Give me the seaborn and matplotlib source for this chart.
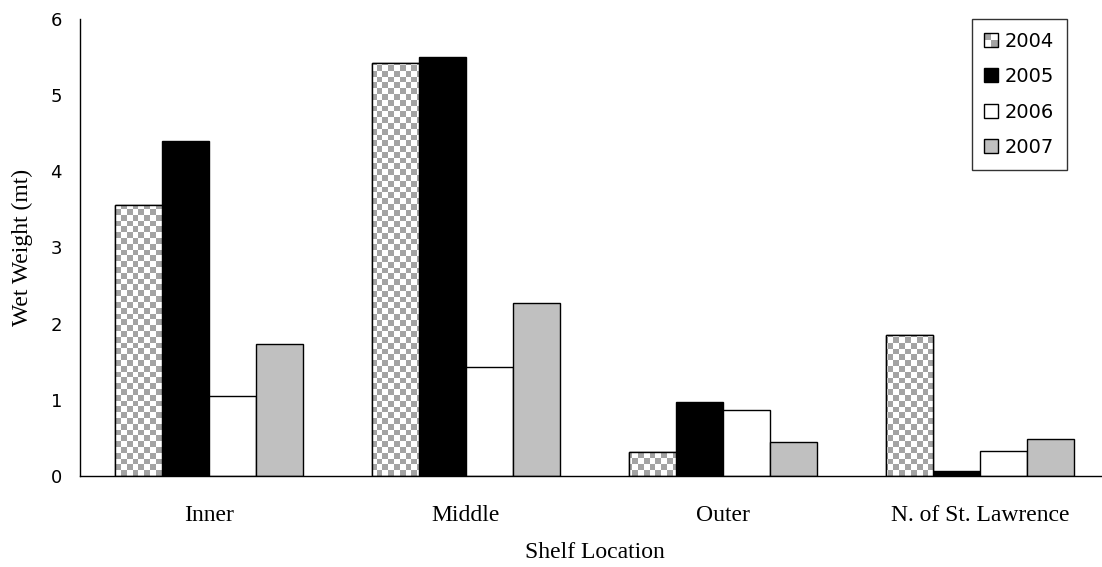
import numpy as np
import pandas as pd
import matplotlib
matplotlib.use("Agg")
import matplotlib.pyplot as plt
from matplotlib.patches import Rectangle, Patch
from matplotlib.legend_handler import HandlerBase
import seaborn as sns

# Wet weight (mt) by shelf location and survey year
categories = ["Inner", "Middle", "Outer", "N. of St. Lawrence"]
years = ["2004", "2005", "2006", "2007"]
y2004 = [3.56, 5.42, 0.32, 1.85]
y2005 = [4.40, 5.50, 0.97, 0.06]
y2006 = [1.05, 1.43, 0.87, 0.33]
y2007 = [1.73, 2.27, 0.45, 0.49]
y_ticks = [0, 1, 2, 3, 4, 5, 6]

df = pd.DataFrame({
    "location": categories * 4,
    "year": sum([[y] * len(categories) for y in years], []),
    "weight": y2004 + y2005 + y2006 + y2007,
})

sns.set_theme(style="white")
serif = ["Liberation Serif", "DejaVu Serif"]
sans = ["DejaVu Sans"]
plt.rcParams["font.family"] = sans
plt.rcParams["text.color"] = "black"
plt.rcParams["xtick.color"] = "black"
plt.rcParams["ytick.color"] = "black"
plt.rcParams["axes.labelcolor"] = "black"

CHECK_GRAY = "#a3a3a3"
palette = {"2004": "white", "2005": "black", "2006": "white", "2007": "#c0c0c0"}

W, H, DPI = 1102, 567, 100
fig = plt.figure(figsize=(W / DPI, H / DPI), dpi=DPI)
ax_l, ax_r, ax_t, ax_b = 80, 1109, 19, 476
ax = fig.add_axes([ax_l / W, 1 - ax_b / H, (ax_r - ax_l) / W, (ax_b - ax_t) / H])

sns.barplot(data=df, x="location", y="weight", hue="year", hue_order=years,
            order=categories, palette=palette, width=0.73, ax=ax,
            edgecolor="black", linewidth=1.0, saturation=1, legend=False,
            errorbar=None)

ax.set_xlim(-0.5, 3.5)
ax.set_ylim(0, 6)

# checkerboard texture for the 2004 bars
sq = 5.8
nx = int(round((ax_r - ax_l) / sq))
ny = int(round((ax_b - ax_t) / sq))
checker = (np.add.outer(np.arange(ny), np.arange(nx)) % 2).astype(float)
cmap = matplotlib.colors.ListedColormap(["white", CHECK_GRAY])
bars_2004 = ax.containers[0]
for bar in bars_2004:
    im = ax.imshow(checker, cmap=cmap, extent=(-0.5, 3.5, 0, 6), origin="upper",
                   interpolation="nearest", aspect="auto", zorder=bar.get_zorder() + 0.1)
    im.set_clip_path(bar)
    outline = Rectangle(bar.get_xy(), bar.get_width(), bar.get_height(),
                        facecolor="none", edgecolor="black", linewidth=1.0,
                        zorder=bar.get_zorder() + 0.2)
    ax.add_patch(outline)
ax.set_xlim(-0.5, 3.5)
ax.set_ylim(0, 6)

# spines and ticks
for s in ["top", "right"]:
    ax.spines[s].set_visible(False)
for s in ["left", "bottom"]:
    ax.spines[s].set_color("black")
    ax.spines[s].set_linewidth(1.0)

ax.set_yticks(y_ticks)
ax.set_yticklabels([str(v) for v in y_ticks], fontsize=13, family=sans, color="black")
ax.tick_params(axis="y", direction="out", length=6, width=1, color="black", pad=7)

ax.set_xticks([-0.5, 0.5, 1.5, 2.5, 3.5])
ax.set_xticklabels([""] * 5)
ax.set_xticks([0, 1, 2, 3], minor=True)
ax.set_xticklabels(categories, minor=True, fontsize=17, family=serif, color="black")
ax.tick_params(axis="x", which="major", direction="out", length=6, width=1, color="black")
ax.tick_params(axis="x", which="minor", length=0, pad=21)

ax.set_xlabel("Shelf Location", fontsize=17, family=serif, color="black")
ax.set_ylabel("Wet Weight (mt)", fontsize=17, family=serif, color="black")
ax.xaxis.set_label_coords((595 - ax_l) / (ax_r - ax_l), -(542 - ax_b) / (ax_b - ax_t))
ax.yaxis.set_label_coords(-(ax_l - 33) / (ax_r - ax_l), 0.5)
ax.grid(False)


class CheckerHandler(HandlerBase):
    def create_artists(self, legend, orig_handle, xdescent, ydescent,
                       width, height, fontsize, trans):
        x0, y0 = -xdescent, -ydescent
        w2, h2 = width / 2, height / 2
        arts = []
        for i in range(2):
            for j in range(2):
                c = CHECK_GRAY if (i + j) % 2 == 1 else "white"
                arts.append(Rectangle((x0 + i * w2, y0 + j * h2), w2, h2,
                                      facecolor=c, edgecolor="none", transform=trans))
        arts.append(Rectangle((x0, y0), width, height, facecolor="none",
                              edgecolor="black", linewidth=1.0, transform=trans))
        return arts


handles = [Patch(facecolor=palette[y], edgecolor="black", linewidth=1.0) for y in years]
leg = fig.legend(handles, years, loc="upper right",
                 bbox_to_anchor=(1067 / W, 1 - 19 / H), bbox_transform=fig.transFigure,
                 borderaxespad=0, fancybox=False, shadow=False, frameon=True,
                 handlelength=0.72, handleheight=0.72, handletextpad=0.35,
                 labelspacing=0.85, borderpad=0.65, prop={"family": sans, "size": 14},
                 handler_map={handles[0]: CheckerHandler()})
leg.get_frame().set_edgecolor("black")
leg.get_frame().set_linewidth(1.0)

fig.savefig("out.png", dpi=DPI, facecolor="white")
